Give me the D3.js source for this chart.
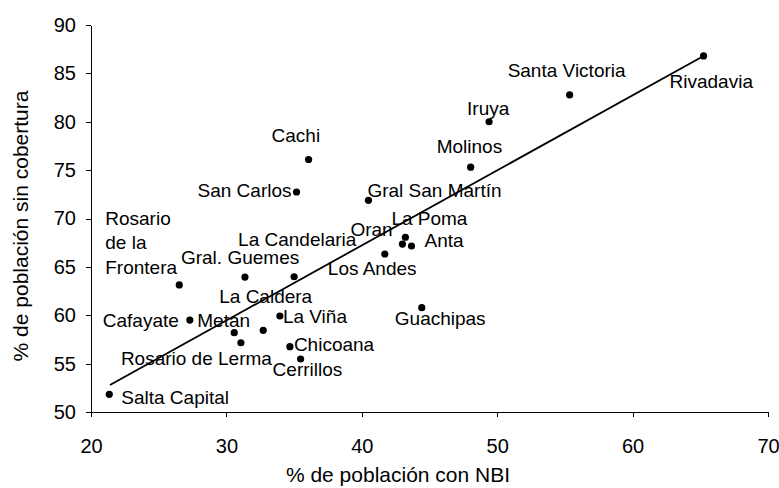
<!DOCTYPE html>
<meta charset="utf-8">
<style>
* { margin: 0; padding: 0; }
body { background: #fff; }
svg { display: block; font-family: "Liberation Sans", Arial, sans-serif; }
.dot { fill: #000; }
.trend { stroke: #000; stroke-width: 1.8; fill: none; }
.axis path, .axis line { stroke: #000; shape-rendering: crispEdges; }
.axis text { font-size: 20px; fill: #000; }
.lbl { font-size: 19px; fill: #000; }
.title { font-size: 21px; fill: #000; }
</style>
<body>
<script src="https://cdn.jsdelivr.net/npm/d3@7"></script>
<script>

// departamentos de Salta
var names = ["Salta Capital", "Rivadavia", "Santa Victoria", "Iruya", "Molinos",
             "Cachi", "San Carlos", "Gral San Martín", "La Poma", "Oran", "Anta",
             "Los Andes", "La Candelaria", "Guachipas", "La Viña", "Gral. Guemes",
             "Rosario de la Frontera", "Cafayate", "Metan", "La Caldera",
             "Rosario de Lerma", "Chicoana", "Cerrillos"];
// % de población con NBI
var nbi = [21.35, 65.24, 55.35, 49.4, 48.04,
           36.07, 35.18, 40.49, 43.22, 43.0, 43.67,
           41.7, 35.0, 44.43, 33.95, 31.37,
           26.52, 27.3, 30.58, 32.72,
           31.07, 34.69, 35.48];
// % de población sin cobertura
var sinCob = [51.83, 86.8, 82.77, 80.0, 75.3,
              76.1, 72.74, 71.88, 68.06, 67.36, 67.16,
              66.33, 63.98, 60.78, 59.92, 63.95,
              63.13, 59.5, 58.2, 58.44,
              57.16, 56.75, 55.48];
// linea de tendencia (extremos)
var trend = [[21.4, 52.79], [65.24, 86.8]];

var xTicks = [20, 30, 40, 50, 60, 70];
var yTicks = [50, 55, 60, 65, 70, 75, 80, 85, 90];

// label placement: [dx, dy, anchor] relative to the dot
var labelPos = {
  "Salta Capital": [12, 10, "start"],
  "Rivadavia": [-34, 32, "start"],
  "Santa Victoria": [-62, -18, "start"],
  "Iruya": [-22, -7, "start"],
  "Molinos": [-34, -14, "start"],
  "Cachi": [-37, -17, "start"],
  "San Carlos": [-5, 5, "end"],
  "Gral San Martín": [-1, -3, "start"],
  "La Poma": [-14, -12, "start"],
  "Oran": [-52, -8, "start"],
  "Anta": [13, 1, "start"],
  "Los Andes": [-57, 21, "start"],
  "La Candelaria": [-56, -31, "start"],
  "Guachipas": [-27, 17, "start"],
  "La Viña": [3, 7, "start"],
  "Gral. Guemes": [-64, -13, "start"],
  "Rosario de la Frontera": [-74, -60, "start"],
  "Cafayate": [-11, 7, "end"],
  "Metan": [-37, -6, "start"],
  "La Caldera": [-44, -27, "start"],
  "Rosario de Lerma": [-120, 22, "start"],
  "Chicoana": [4, 4, "start"],
  "Cerrillos": [-28, 17, "start"]
};

var width = 779, height = 488;
var plotLeft = 91, plotRight = 768, plotTop = 25, plotBottom = 412;

var svg = d3.select("body").append("svg")
    .attr("width", width)
    .attr("height", height);

var x = d3.scaleLinear().domain([20, 70]).range([plotLeft, plotRight]);
var y = d3.scaleLinear().domain([50, 90]).range([plotBottom, plotTop]);

svg.append("g")
    .attr("class", "axis")
    .attr("transform", "translate(0," + plotBottom + ")")
    .call(d3.axisBottom(x).tickValues(xTicks).tickSize(5).tickSizeOuter(0).tickPadding(22));

svg.append("g")
    .attr("class", "axis")
    .attr("transform", "translate(" + plotLeft + ",0)")
    .call(d3.axisLeft(y).tickValues(yTicks).tickSize(5).tickSizeOuter(0).tickPadding(10));

svg.selectAll(".axis").attr("font-family", null).attr("font-size", null);

// trend line
svg.append("line")
    .attr("class", "trend")
    .attr("x1", x(trend[0][0])).attr("y1", y(trend[0][1]))
    .attr("x2", x(trend[1][0])).attr("y2", y(trend[1][1]));

var pts = names.map(function(n, i) { return { name: n, x: nbi[i], y: sinCob[i] }; });

svg.selectAll(".dot")
    .data(pts)
    .enter().append("circle")
    .attr("class", "dot")
    .attr("cx", d => x(d.x))
    .attr("cy", d => y(d.y))
    .attr("r", 3.6);

pts.forEach(function(d) {
  var p = labelPos[d.name];
  var t = svg.append("text")
      .attr("class", "lbl")
      .attr("x", x(d.x) + p[0])
      .attr("y", y(d.y) + p[1])
      .attr("text-anchor", p[2]);
  if (d.name == "Rosario de la Frontera") {
    ["Rosario", "de la", "Frontera"].forEach(function(s, k) {
      t.append("tspan").attr("x", x(d.x) + p[0]).attr("dy", k == 0 ? 0 : 24.5).text(s);
    });
  } else {
    t.text(d.name);
  }
});

// axis titles
svg.append("text")
    .attr("class", "title")
    .attr("x", 398)
    .attr("y", 482)
    .attr("text-anchor", "middle")
    .text("% de población con NBI");

svg.append("text")
    .attr("class", "title")
    .attr("transform", "translate(28,226) rotate(-90)")
    .attr("text-anchor", "middle")
    .text("% de población sin cobertura");

</script>
